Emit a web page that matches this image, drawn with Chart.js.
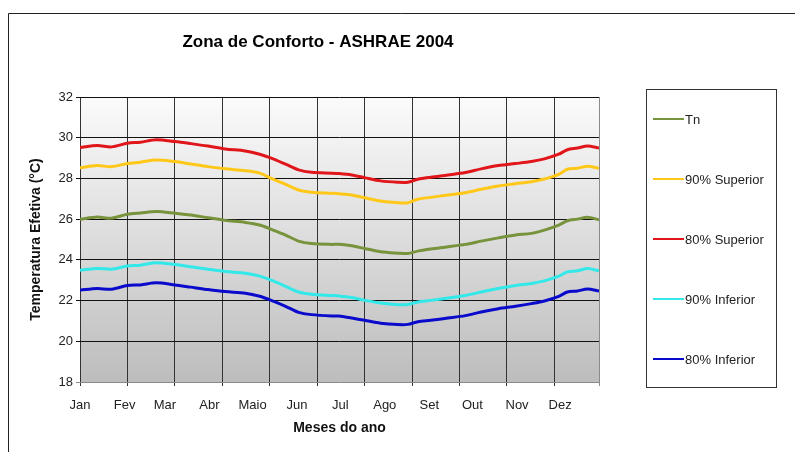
<!DOCTYPE html>
<html lang="pt">
<head>
    <meta charset="UTF-8">
    <title>Zona de Conforto - ASHRAE 2004</title>
    <script src="https://cdn.jsdelivr.net/npm/chart.js"></script>
    <style>
        body {
            margin: 0;
            padding: 0;
            background: #fff;
            font-family: 'Liberation Sans', Arial, sans-serif;
        }
        #wrap {
            width: 795px;
            height: 452px;
        }
    </style>
</head>
<body>
    <div id="wrap"><canvas id="chart" width="795" height="452"></canvas></div>

    <script>
        // day of year (0 = 1 Jan) for each sampled point
        const days = [0, 12, 22, 33, 42, 53, 66, 77, 89, 101, 115, 125, 133, 143, 152, 161, 175, 180, 189,
            198, 209, 221, 228, 235, 244, 256, 268, 279, 291, 303, 314, 323, 333, 339, 346, 353, 361];

        const tn = [26.00, 26.10, 26.05, 26.24, 26.30, 26.37, 26.29, 26.20, 26.07, 25.94, 25.84, 25.71, 25.50,
            25.22, 24.92, 24.80, 24.76, 24.77, 24.69, 24.56, 24.40, 24.33, 24.31, 24.43, 24.53, 24.64, 24.76,
            24.92, 25.08, 25.22, 25.30, 25.46, 25.71, 25.92, 26.00, 26.09, 25.97];
        const sup90 = [28.53, 28.63, 28.58, 28.73, 28.80, 28.90, 28.83, 28.71, 28.58, 28.47, 28.38, 28.26, 28.00,
            27.71, 27.43, 27.32, 27.27, 27.25, 27.19, 27.05, 26.89, 26.81, 26.81, 26.98, 27.07, 27.19, 27.30,
            27.47, 27.63, 27.74, 27.84, 27.97, 28.20, 28.45, 28.50, 28.60, 28.50];
        const sup80 = [29.52, 29.62, 29.55, 29.73, 29.78, 29.90, 29.81, 29.71, 29.59, 29.45, 29.35, 29.19, 29.00,
            28.70, 28.42, 28.30, 28.26, 28.24, 28.17, 28.04, 27.88, 27.81, 27.81, 27.96, 28.06, 28.17, 28.29,
            28.47, 28.63, 28.73, 28.83, 28.96, 29.19, 29.41, 29.49, 29.59, 29.49];
        const inf90 = [23.49, 23.58, 23.54, 23.70, 23.74, 23.86, 23.77, 23.66, 23.54, 23.43, 23.34, 23.20, 23.00,
            22.70, 22.42, 22.31, 22.25, 22.23, 22.15, 22.01, 21.88, 21.80, 21.81, 21.93, 22.01, 22.13, 22.25,
            22.42, 22.59, 22.74, 22.84, 22.97, 23.20, 23.41, 23.46, 23.58, 23.46];
        const inf80 = [22.51, 22.59, 22.56, 22.74, 22.77, 22.87, 22.77, 22.66, 22.54, 22.44, 22.36, 22.21, 22.01,
            21.72, 21.42, 21.31, 21.24, 21.24, 21.14, 21.03, 20.89, 20.82, 20.83, 20.96, 21.03, 21.14, 21.26,
            21.44, 21.60, 21.72, 21.85, 21.98, 22.21, 22.42, 22.47, 22.57, 22.47];

        const monthLabels = ['Jan', 'Fev', 'Mar', 'Abr', 'Maio', 'Jun', 'Jul', 'Ago', 'Set', 'Out', 'Nov', 'Dez'];
        const monthStarts = [0, 31, 59, 90, 120, 151, 181, 212, 243, 273, 304, 334];
        const gridDays = [0, 33, 66, 99, 132, 165, 198, 231, 264, 297, 330, 361];

        const seriesNames = ['Tn', '90% Superior', '80% Superior', '90% Inferior', '80% Inferior'];
        const seriesValues = [tn, sup90, sup80, inf90, inf80];
        const seriesColors = ['#77933c', '#ffc819', '#e0161b', '#33e8e8', '#0a0acc'];

        const toPoints = vals => vals.map((v, i) => ({ x: days[i], y: v }));

        // gradient plot background, outer frame, title and legend box
        const decor = {
            id: 'decor',
            beforeDraw(chart) {
                const { ctx, chartArea: a } = chart;
                const g = ctx.createLinearGradient(0, a.top, 0, a.bottom);
                g.addColorStop(0, '#fbfbfb');
                g.addColorStop(1, '#bdbdbd');
                ctx.save();
                ctx.fillStyle = g;
                ctx.fillRect(a.left, a.top, a.right - a.left, a.bottom - a.top);
                ctx.restore();
            },
            afterDraw(chart) {
                const ctx = chart.ctx;
                ctx.save();
                // outer frame
                ctx.strokeStyle = '#222';
                ctx.lineWidth = 1;
                ctx.beginPath();
                ctx.moveTo(8.5, 452);
                ctx.lineTo(8.5, 13.5);
                ctx.lineTo(795, 13.5);
                ctx.stroke();

                // title
                ctx.fillStyle = '#000';
                ctx.font = 'bold 17px "Liberation Sans", Arial, sans-serif';
                ctx.textAlign = 'center';
                ctx.textBaseline = 'middle';
                ctx.fillText('Zona de Conforto - ASHRAE 2004', 318, 42);

                // legend
                ctx.strokeStyle = '#333';
                ctx.strokeRect(646.5, 89.5, 130, 298);
                ctx.font = '13px "Liberation Sans", Arial, sans-serif';
                ctx.textAlign = 'left';
                ctx.fillStyle = '#222';
                chart.data.datasets.forEach((ds, i) => {
                    const y = 119 + i * 60;
                    ctx.strokeStyle = ds.borderColor;
                    ctx.lineWidth = 2;
                    ctx.beginPath();
                    ctx.moveTo(653, y);
                    ctx.lineTo(684, y);
                    ctx.stroke();
                    ctx.fillText(ds.label, 685, y + 1);
                });
                ctx.restore();
            }
        };

        new Chart(document.getElementById('chart'), {
            type: 'line',
            data: {
                datasets: seriesNames.map((name, i) => ({
                    label: name,
                    data: toPoints(seriesValues[i]),
                    borderColor: seriesColors[i],
                    backgroundColor: seriesColors[i],
                    borderWidth: 3,
                    pointRadius: 0,
                    tension: 0.3,
                    xAxisID: 'x',
                    yAxisID: 'y'
                }))
            },
            options: {
                responsive: false,
                animation: false,
                devicePixelRatio: 1,
                layout: { padding: { left: 0, top: 97, right: 196, bottom: 0 } },
                plugins: {
                    legend: { display: false },
                    title: { display: false },
                    tooltip: { enabled: false }
                },
                scales: {
                    x: {
                        type: 'linear',
                        position: 'bottom',
                        min: 0,
                        max: 361,
                        weight: 0,
                        afterBuildTicks: s => { s.ticks = gridDays.map(v => ({ value: v })); },
                        ticks: { display: false },
                        grid: {
                            color: c => (c.tick && c.tick.value === 361) ? '#8a8a8a' : '#333',
                            lineWidth: 1,
                            tickLength: 4
                        },
                        border: { display: false },
                        afterFit: s => { s.height = 0; }
                    },
                    x2: {
                        type: 'linear',
                        position: 'bottom',
                        min: 0,
                        max: 361,
                        weight: 1,
                        afterBuildTicks: s => { s.ticks = monthStarts.map(v => ({ value: v })); },
                        ticks: {
                            callback: (v, i) => monthLabels[i],
                            font: { size: 13, family: '"Liberation Sans", Arial, sans-serif' },
                            color: '#222',
                            padding: 16,
                            maxRotation: 0,
                            autoSkip: false
                        },
                        grid: { display: false, drawTicks: false },
                        border: { display: false },
                        title: {
                            display: true,
                            text: 'Meses do ano',
                            font: { size: 14, weight: 'bold', family: '"Liberation Sans", Arial, sans-serif' },
                            color: '#111',
                            padding: { top: 0, bottom: 15 }
                        },
                        afterFit: s => { s.height = 70; }
                    },
                    y: {
                        min: 18,
                        max: 32,
                        ticks: {
                            stepSize: 2,
                            font: { size: 13, family: '"Liberation Sans", Arial, sans-serif' },
                            color: '#222',
                            padding: 3
                        },
                        grid: {
                            color: c => (c.tick && c.tick.value === 18) ? '#8a8a8a' : '#111',
                            lineWidth: 1,
                            tickLength: 4
                        },
                        border: { display: false },
                        title: {
                            display: true,
                            text: 'Temperatura Efetiva (°C)',
                            font: { size: 14, weight: 'bold', family: '"Liberation Sans", Arial, sans-serif' },
                            color: '#111',
                            padding: { top: 28, bottom: 0 }
                        },
                        afterFit: s => { s.width = 80; }
                    }
                }
            },
            plugins: [decor]
        });
    </script>
</body>
</html>
